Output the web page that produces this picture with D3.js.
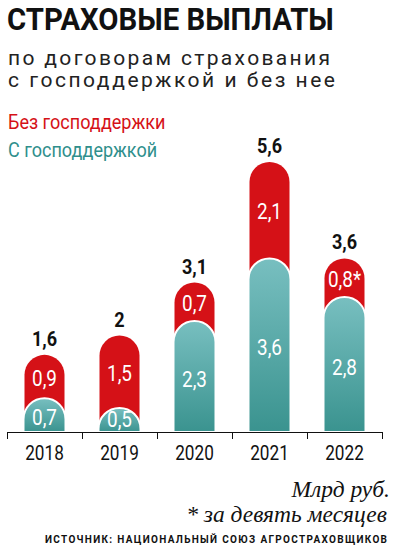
<!DOCTYPE html>
<html>
<head>
<meta charset="utf-8">
<script src="https://cdn.jsdelivr.net/npm/d3@7"></script>
<style>
  body { margin: 0; background: #fff; }
  svg text { font-family: "Roboto", "Liberation Sans", sans-serif; }
</style>
</head>
<body>
<div class="chart"></div>
<script>
// Data
const years = ['2018', '2019', '2020', '2021', '2022'];
const withSupport = [0.7, 0.5, 2.3, 3.6, 2.8];
const withoutSupport = [0.9, 1.5, 0.7, 2.1, 0.8];
const totals = [1.6, 2, 3.1, 5.6, 3.6];
const redNotes = ['', '', '', '', '*'];

const outerWidth = 398;
const outerHeight = 552;

const red = '#d51117';
const narrow = 0.86; // horizontal squeeze to mimic condensed type

const svg = d3.select('.chart')
  .append('svg')
    .attr('width', outerWidth)
    .attr('height', outerHeight);

const defs = svg.append('defs');
const grad = defs.append('linearGradient')
  .attr('id', 'tealGrad')
  .attr('x1', 0).attr('y1', 0).attr('x2', 0).attr('y2', 1);
grad.append('stop').attr('offset', '0%').attr('stop-color', '#78bfc0');
grad.append('stop').attr('offset', '100%').attr('stop-color', '#3a938f');

// condensed text helper
function cText(parent, x0, y0) {
  return parent.append('text')
    .attr('transform', `translate(${x0},${y0}) scale(${narrow},1)`);
}

// Title
cText(svg, 7, 30)
  .style('font-size', '31px').style('font-weight', 'bold')
  .attr('fill', '#111')
  .attr('textLength', 380).attr('lengthAdjust', 'spacingAndGlyphs')
  .text('СТРАХОВЫЕ ВЫПЛАТЫ');

svg.append('text')
  .attr('x', 8).attr('y', 65)
  .style('font-size', '21px')
  .attr('fill', '#222')
  .attr('textLength', 322).attr('lengthAdjust', 'spacing')
  .text('по договорам страхования');

svg.append('text')
  .attr('x', 8).attr('y', 87)
  .style('font-size', '21px')
  .attr('fill', '#222')
  .attr('textLength', 327).attr('lengthAdjust', 'spacing')
  .text('с господдержкой и без нее');

// Legend
cText(svg, 8, 129)
  .style('font-size', '21px')
  .attr('fill', red)
  .text('Без господдержки');

cText(svg, 8, 157)
  .style('font-size', '21px')
  .attr('fill', '#2f8f8c')
  .text('С господдержкой');

// Scales
const x = d3.scaleBand()
  .domain(years)
  .range([7, 382])
  .paddingInner(0)
  .paddingOuter(0);

const y = d3.scaleLinear()
  .domain([0, 5.6])
  .range([432, 162]);

const barW = 40;
const cx = d => x(d) + x.bandwidth() / 2;
const fmt = v => String(v).replace('.', ',');

// rounded-top capsule path
function capsule(c, top, bottom, w) {
  const r = w / 2;
  const p = d3.path();
  p.moveTo(c - r, bottom);
  p.lineTo(c - r, top + r);
  p.arc(c, top + r, r, Math.PI, 0);
  p.lineTo(c + r, bottom);
  p.closePath();
  return p.toString();
}

const chartG = svg.append('g');

const bars = chartG.selectAll('.bar')
  .data(years)
  .enter().append('g')
    .attr('class', 'bar');

bars.append('path')
  .attr('fill', red)
  .attr('d', (d, i) => capsule(cx(d), y(totals[i]), y(0), barW));

bars.append('path')
  .attr('fill', 'url(#tealGrad)')
  .attr('stroke', '#fff')
  .attr('stroke-width', 2)
  .attr('d', (d, i) => capsule(cx(d), y(withSupport[i]), y(0), barW + 2));

// segment labels
bars.append('text')
  .attr('transform', (d, i) =>
    `translate(${cx(d)},${(y(totals[i]) + y(withSupport[i])) / 2 + 9}) scale(${narrow},1)`)
  .attr('text-anchor', 'middle')
  .style('font-size', '22px')
  .attr('fill', '#fff')
  .text((d, i) => fmt(withoutSupport[i]) + redNotes[i]);

bars.append('text')
  .attr('transform', (d, i) =>
    `translate(${cx(d)},${Math.min((y(withSupport[i]) + y(0)) / 2 + 10, 427)}) scale(${narrow},1)`)
  .attr('text-anchor', 'middle')
  .style('font-size', '22px')
  .attr('fill', '#fff')
  .text((d, i) => fmt(withSupport[i]));

// totals
bars.append('text')
  .attr('transform', (d, i) => `translate(${cx(d)},${y(totals[i]) - 9}) scale(${narrow},1)`)
  .attr('text-anchor', 'middle')
  .style('font-size', '21px').style('font-weight', 'bold')
  .attr('fill', '#111')
  .text((d, i) => fmt(totals[i]));

// Axis
const axisG = svg.append('g');
axisG.append('line')
  .attr('x1', x.range()[0]).attr('x2', x.range()[1])
  .attr('y1', 432.5).attr('y2', 432.5)
  .attr('stroke', '#111').attr('stroke-width', 1);

const tickPos = years.map(d => x(d)).concat([x.range()[1]]);
axisG.selectAll('.tick')
  .data(tickPos)
  .enter().append('line')
    .attr('x1', d => d + 0.5).attr('x2', d => d + 0.5)
    .attr('y1', 432).attr('y2', 439)
    .attr('stroke', '#111');

axisG.selectAll('.yearLabel')
  .data(years)
  .enter().append('text')
    .attr('transform', d => `translate(${cx(d)},460) scale(${narrow},1)`)
    .attr('text-anchor', 'middle')
    .style('font-size', '20px')
    .attr('fill', '#111')
    .text(d => d);

// Footer
svg.append('text')
  .attr('x', 390).attr('y', 497)
  .attr('text-anchor', 'end')
  .style('font-family', '"Liberation Serif", serif')
  .style('font-style', 'italic')
  .style('font-size', '23.5px')
  .attr('fill', '#111')
  .text('Млрд руб.');

svg.append('text')
  .attr('x', 387).attr('y', 522)
  .attr('text-anchor', 'end')
  .style('font-family', '"Liberation Serif", serif')
  .style('font-style', 'italic')
  .style('font-size', '23.5px')
  .attr('fill', '#111')
  .text('* за девять месяцев');

svg.append('text')
  .attr('x', 45).attr('y', 543)
  .style('font-size', '10px').style('font-weight', 'bold')
  .attr('textLength', 342).attr('lengthAdjust', 'spacing')
  .attr('fill', '#111')
  .text('ИСТОЧНИК: НАЦИОНАЛЬНЫЙ СОЮЗ АГРОСТРАХОВЩИКОВ');
</script>
</body>
</html>
